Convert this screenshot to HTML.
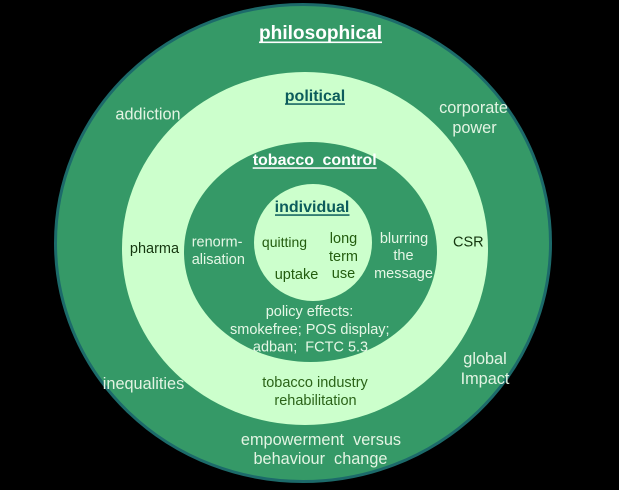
<!DOCTYPE html>
<html>
<head>
<meta charset="utf-8">
<style>
html,body{margin:0;padding:0;background:#000;}
svg{display:block;}
text{font-family:"Liberation Sans",Arial,sans-serif;}
</style>
</head>
<body>
<svg width="619" height="490" viewBox="0 0 619 490" xmlns="http://www.w3.org/2000/svg">
  <rect x="0" y="0" width="619" height="490" fill="#000"/>
  <!-- outer ring -->
  <ellipse cx="303" cy="243" rx="247.5" ry="238.5" fill="#359967" stroke="#1c6a6a" stroke-width="3"/>
  <!-- light ring -->
  <ellipse cx="305" cy="248.5" rx="183" ry="176.5" fill="#ccffcc"/>
  <!-- dark ring -->
  <ellipse cx="310.5" cy="252" rx="126.5" ry="110" fill="#359967"/>
  <!-- innermost -->
  <ellipse cx="313" cy="242.5" rx="59" ry="58.5" fill="#ccffcc"/>

  <!-- headings -->
  <text x="320.5" y="39" font-size="19" font-weight="bold" fill="#ffffff" text-anchor="middle" textLength="123" lengthAdjust="spacingAndGlyphs">philosophical</text>
  <rect x="259" y="41.5" width="123" height="1.6" fill="#ffffff"/>

  <text x="315" y="101" font-size="16" font-weight="bold" fill="#0c5c5c" text-anchor="middle">political</text>
  <rect x="285" y="103.3" width="60" height="1.5" fill="#0c5c5c"/>

  <text x="252.7" y="165" font-size="16" font-weight="bold" fill="#ffffff" word-spacing="4">tobacco control</text>
  <rect x="252.7" y="167.3" width="124" height="1.5" fill="#ffffff"/>

  <text x="312" y="212" font-size="16" font-weight="bold" fill="#0c5c5c" text-anchor="middle">individual</text>
  <rect x="275" y="214.3" width="74.5" height="1.5" fill="#0c5c5c"/>

  <!-- outer ring labels -->
  <g font-size="16.3" fill="#e3f4e3" text-anchor="middle">
    <text x="148" y="119.5">addiction</text>
    <text x="473.5" y="113">corporate</text>
    <text x="474.5" y="133">power</text>
    <text x="485" y="364">global</text>
    <text x="485" y="384">Impact</text>
    <text x="143.5" y="389">inequalities</text>
    <text x="321" y="445" xml:space="preserve">empowerment  versus</text>
    <text x="320.5" y="464" xml:space="preserve">behaviour  change</text>
  </g>

  <!-- light ring labels -->
  <g font-size="14.5" text-anchor="middle">
    <text x="154.5" y="253" fill="#15360f">pharma</text>
    <text x="468.3" y="246.7" fill="#15360f">CSR</text>
    <text x="315" y="387" fill="#2b6318">tobacco industry</text>
    <text x="315.5" y="405" fill="#2b6318">rehabilitation</text>
  </g>

  <!-- dark ring labels -->
  <g font-size="14.5" fill="#e6f7e6">
    <text x="191.7" y="246.7">renorm-</text>
    <text x="191.7" y="264">alisation</text>
    <text x="404" y="243" text-anchor="middle">blurring</text>
    <text x="403.5" y="260" text-anchor="middle">the</text>
    <text x="403.5" y="278" text-anchor="middle">message</text>
    <text x="309.5" y="316" text-anchor="middle">policy effects:</text>
    <text x="309.8" y="334" text-anchor="middle">smokefree; POS display;</text>
    <text x="310.5" y="351.7" text-anchor="middle" xml:space="preserve">adban;  FCTC 5.3</text>
  </g>

  <!-- innermost labels -->
  <g font-size="14.5" fill="#235c0e" text-anchor="middle">
    <text x="284.5" y="247" font-size="14">quitting</text>
    <text x="343.5" y="243">long</text>
    <text x="343.5" y="261">term</text>
    <text x="343.5" y="278">use</text>
    <text x="296.5" y="279">uptake</text>
  </g>
</svg>
</body>
</html>
